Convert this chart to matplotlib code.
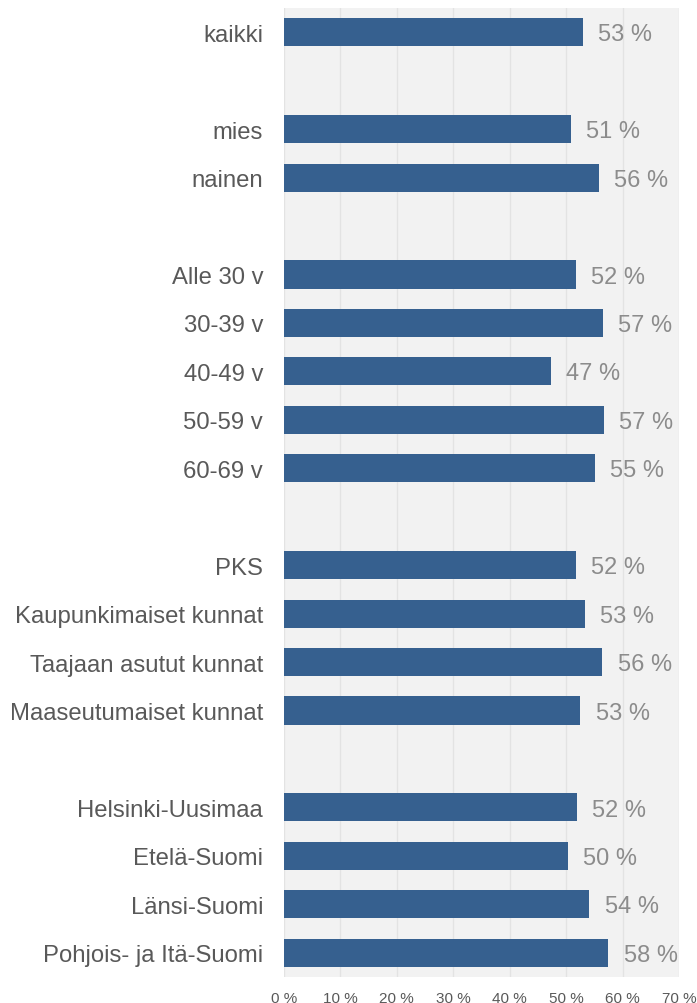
import matplotlib
matplotlib.use('Agg')
import matplotlib.pyplot as plt
import numpy as np

plt.rcParams['font.family'] = ['Liberation Sans', 'DejaVu Sans']

# rows from top to bottom, None = empty slot between groups
categories = ['kaikki', None, 'mies', 'nainen', None,
              'Alle 30 v', '30-39 v', '40-49 v', '50-59 v', '60-69 v', None,
              'PKS', 'Kaupunkimaiset kunnat', 'Taajaan asutut kunnat', 'Maaseutumaiset kunnat', None,
              'Helsinki-Uusimaa', 'Etelä-Suomi', 'Länsi-Suomi', 'Pohjois- ja Itä-Suomi']
values = [52.9, None, 50.9, 55.8, None,
          51.7, 56.5, 47.3, 56.7, 55.1, None,
          51.7, 53.3, 56.4, 52.5, None,
          51.9, 50.3, 54.1, 57.5]
labels = ['53 %', None, '51 %', '56 %', None,
          '52 %', '57 %', '47 %', '57 %', '55 %', None,
          '52 %', '53 %', '56 %', '53 %', None,
          '52 %', '50 %', '54 %', '58 %']
xticks = [0, 10, 20, 30, 40, 50, 60, 70]

fig = plt.figure(figsize=(6.97, 10.04), dpi=100)
ax = fig.add_axes([284/697, 1-978/1004, (679-284)/697, (978-9)/1004])
ax.set_facecolor('#F2F2F2')

ypos = np.arange(len(categories))
for y, v, lab in zip(ypos, values, labels):
    if v is None:
        continue
    ax.barh(y, v, height=0.58, color='#36608F', zorder=3)
    ax.annotate(lab, (v, y), xytext=(11, -1.5), textcoords='offset points',
                va='center', ha='left', fontsize=17, color='#8C8C8C')

ax.set_ylim(len(categories)-0.5, -0.5)
ax.set_xlim(0, 70)
ax.set_xticks(xticks)
ax.set_xticklabels([f'{t} %' for t in xticks], fontsize=11, color='#595959')
ax.set_yticks([y for y, c in zip(ypos, categories) if c is not None])
ax.set_yticklabels([c for c in categories if c is not None], fontsize=17.2, color='#595959')
ax.tick_params(axis='both', length=0)
ax.tick_params(axis='y', pad=15)
ax.tick_params(axis='x', pad=10)
ax.xaxis.grid(True, color='#E3E3E3', linewidth=1, zorder=0)
ax.set_axisbelow(True)
for s in ax.spines.values():
    s.set_visible(False)

fig.savefig('out.png', dpi=100)
